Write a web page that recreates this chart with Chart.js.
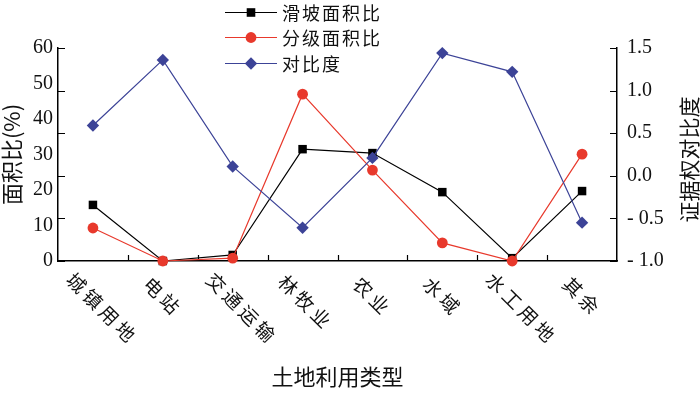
<!DOCTYPE html>
<html>
<head>
<meta charset="utf-8">
<script src="https://cdn.jsdelivr.net/npm/chart.js@4"></script>
<style>
  html, body { margin: 0; padding: 0; background: #fff; }
  #wrap { width: 700px; height: 394px; }
</style>
</head>
<body>
<div id="wrap"><canvas id="chart" width="700" height="394"></canvas></div>
<script>
// データ
const categories = ["城镇用地", "电站", "交通运输", "林牧业", "农业", "水域", "水工用地", "其余"];
const slideArea = [15.8, 0, 1.7, 31.5, 30.4, 19.4, 0.8, 19.7];   // 滑坡面积比 (%)
const classArea = [9.3, 0, 0.8, 47.0, 25.6, 5.1, 0, 30.1];       // 分级面积比 (%)
const contrast = [0.59, 1.36, 0.11, -0.61, 0.21, 1.44, 1.22, -0.55]; // 对比度
const leftTicks = [0, 10, 20, 30, 40, 50, 60];
const rightTicks = [-1.0, -0.5, 0.0, 0.5, 1.0, 1.5];

const numFont = '"Liberation Serif", "Times New Roman", "Noto Sans CJK SC", serif';
const cjkFont = '"Noto Sans CJK SC", "Liberation Serif", sans-serif';
const RED = "#e8392c";
const BLUE = "#3c4397";

const legendItems = [
  { text: "滑坡面积比", color: "#000", marker: "rect" },
  { text: "分级面积比", color: RED, marker: "circle" },
  { text: "对比度", color: BLUE, marker: "rectRot" }
];

function drawMarker(ctx, type, x, y, color) {
  ctx.fillStyle = color;
  ctx.beginPath();
  if (type === "rect") ctx.rect(x - 4.3, y - 4.3, 8.6, 8.6);
  else if (type === "circle") ctx.arc(x, y, 5.4, 0, Math.PI * 2);
  else { ctx.moveTo(x, y - 6.2); ctx.lineTo(x + 6.2, y); ctx.lineTo(x, y + 6.2); ctx.lineTo(x - 6.2, y); ctx.closePath(); }
  ctx.fill();
}

// 刻度线・横轴ラベル・凡例・右軸タイトル
const extras = {
  id: "extras",
  beforeDatasetsDraw(chart) {
    const ctx = chart.ctx, area = chart.chartArea;
    const x = chart.scales.x, yR = chart.scales.y1;
    ctx.save();
    ctx.strokeStyle = "#000";
    ctx.lineWidth = 1.2;
    ctx.beginPath();
    yR.ticks.forEach((t, i) => {
      const py = Math.round(yR.getPixelForTick(i)) + 0.5;
      ctx.moveTo(area.right, py); ctx.lineTo(area.right - 7, py);
      ctx.moveTo(area.left, py); ctx.lineTo(area.left + 7, py);
    });
    for (let i = 1; i < categories.length; i++) {
      const px = Math.round((x.getPixelForValue(i - 1) + x.getPixelForValue(i)) / 2) + 0.5;
      ctx.moveTo(px, area.bottom); ctx.lineTo(px, area.bottom - 6);
    }
    ctx.stroke();
    ctx.restore();
  },
  afterDraw(chart) {
    const ctx = chart.ctx, area = chart.chartArea;
    const x = chart.scales.x;
    ctx.save();
    ctx.fillStyle = "#111";
    ctx.font = "19px " + cjkFont;
    ctx.letterSpacing = "4px";
    ctx.textAlign = "left";
    ctx.textBaseline = "middle";
    categories.forEach((c, i) => {
      const n = c.length;
      ctx.save();
      ctx.translate(x.getPixelForValue(i) - 6 - 5 * n + (n === 4 ? 3 : 0), area.bottom + 24 - 2.2 * n);
      ctx.rotate(Math.PI / 4);
      ctx.fillText(c, 0, 0);
      ctx.restore();
    });

    // 右軸タイトル (下から上へ)
    ctx.letterSpacing = "0px";
    ctx.font = "21px " + cjkFont;
    ctx.textAlign = "center";
    ctx.save();
    ctx.translate(689, (area.top + area.bottom) / 2 + 5);
    ctx.rotate(-Math.PI / 2);
    ctx.fillText("证据权对比度", 0, 0);
    ctx.restore();

    // 凡例
    const rows = [12, 37, 63];
    ctx.font = "18px " + cjkFont;
    ctx.letterSpacing = "2px";
    ctx.textAlign = "left";
    legendItems.forEach((it, i) => {
      const y = rows[i];
      ctx.strokeStyle = it.color;
      ctx.lineWidth = 1.2;
      ctx.beginPath();
      ctx.moveTo(225, y + 0.5); ctx.lineTo(277, y + 0.5);
      ctx.stroke();
      drawMarker(ctx, it.marker, 251, y + 0.5, it.color);
      ctx.fillStyle = "#111";
      ctx.fillText(it.text, 282, y + 1);
    });
    ctx.restore();
  }
};

new Chart(document.getElementById("chart"), {
  type: "line",
  data: {
    labels: categories,
    datasets: [
      {
        label: "滑坡面积比", data: slideArea, yAxisID: "y", order: 2,
        borderColor: "#000", backgroundColor: "#000", borderWidth: 1.2,
        pointStyle: "rect", pointRadius: 6, pointBorderWidth: 0, clip: false
      },
      {
        label: "分级面积比", data: classArea, yAxisID: "y", order: 1,
        borderColor: RED, backgroundColor: RED, borderWidth: 1.2,
        pointStyle: "circle", pointRadius: 5.4, pointBorderWidth: 0, clip: false
      },
      {
        label: "对比度", data: contrast, yAxisID: "y1", order: 0,
        borderColor: BLUE, backgroundColor: BLUE, borderWidth: 1.2,
        pointStyle: "rectRot", pointRadius: 6.2, pointBorderWidth: 0, clip: false
      }
    ]
  },
  options: {
    responsive: false,
    animation: false,
    layout: { padding: { top: 48, left: 0, right: 0, bottom: 0 } },
    plugins: { legend: { display: false }, tooltip: { enabled: false } },
    scales: {
      x: {
        offset: true,
        grid: { display: false },
        border: { display: true, color: "#000", width: 1.5 },
        ticks: { display: false },
        title: {
          display: true, text: "土地利用类型", color: "#111",
          font: { family: cjkFont, size: 22, lineHeight: 1.2 },
          padding: { top: 0, bottom: 4 }
        },
        afterFit: s => { s.height = 133; }
      },
      y: {
        position: "left",
        min: 0, max: 60,
        afterBuildTicks: s => { s.ticks = leftTicks.map(v => ({ value: v })); },
        grid: { display: false, drawTicks: false },
        border: { display: true, color: "#000", width: 1.5 },
        ticks: { color: "#111", padding: 5, font: { family: numFont, size: 20 } },
        title: {
          display: true, text: "面积比(%)", color: "#111",
          font: { family: cjkFont, size: 22, lineHeight: 1.1 },
          padding: { top: 0, bottom: 0 }
        },
        afterFit: s => { s.width = 58; }
      },
      y1: {
        position: "right",
        min: -1, max: 1.5,
        afterBuildTicks: s => { s.ticks = rightTicks.map(v => ({ value: v })); },
        grid: { display: false, drawTicks: false },
        border: { display: true, color: "#000", width: 1.5 },
        ticks: {
          color: "#111", padding: 10, font: { family: numFont, size: 20 },
          callback: v => v < 0 ? "- " + Math.abs(v).toFixed(1) : v.toFixed(1)
        },
        afterFit: s => { s.width = 83; }
      }
    }
  },
  plugins: [extras]
});
</script>
</body>
</html>
